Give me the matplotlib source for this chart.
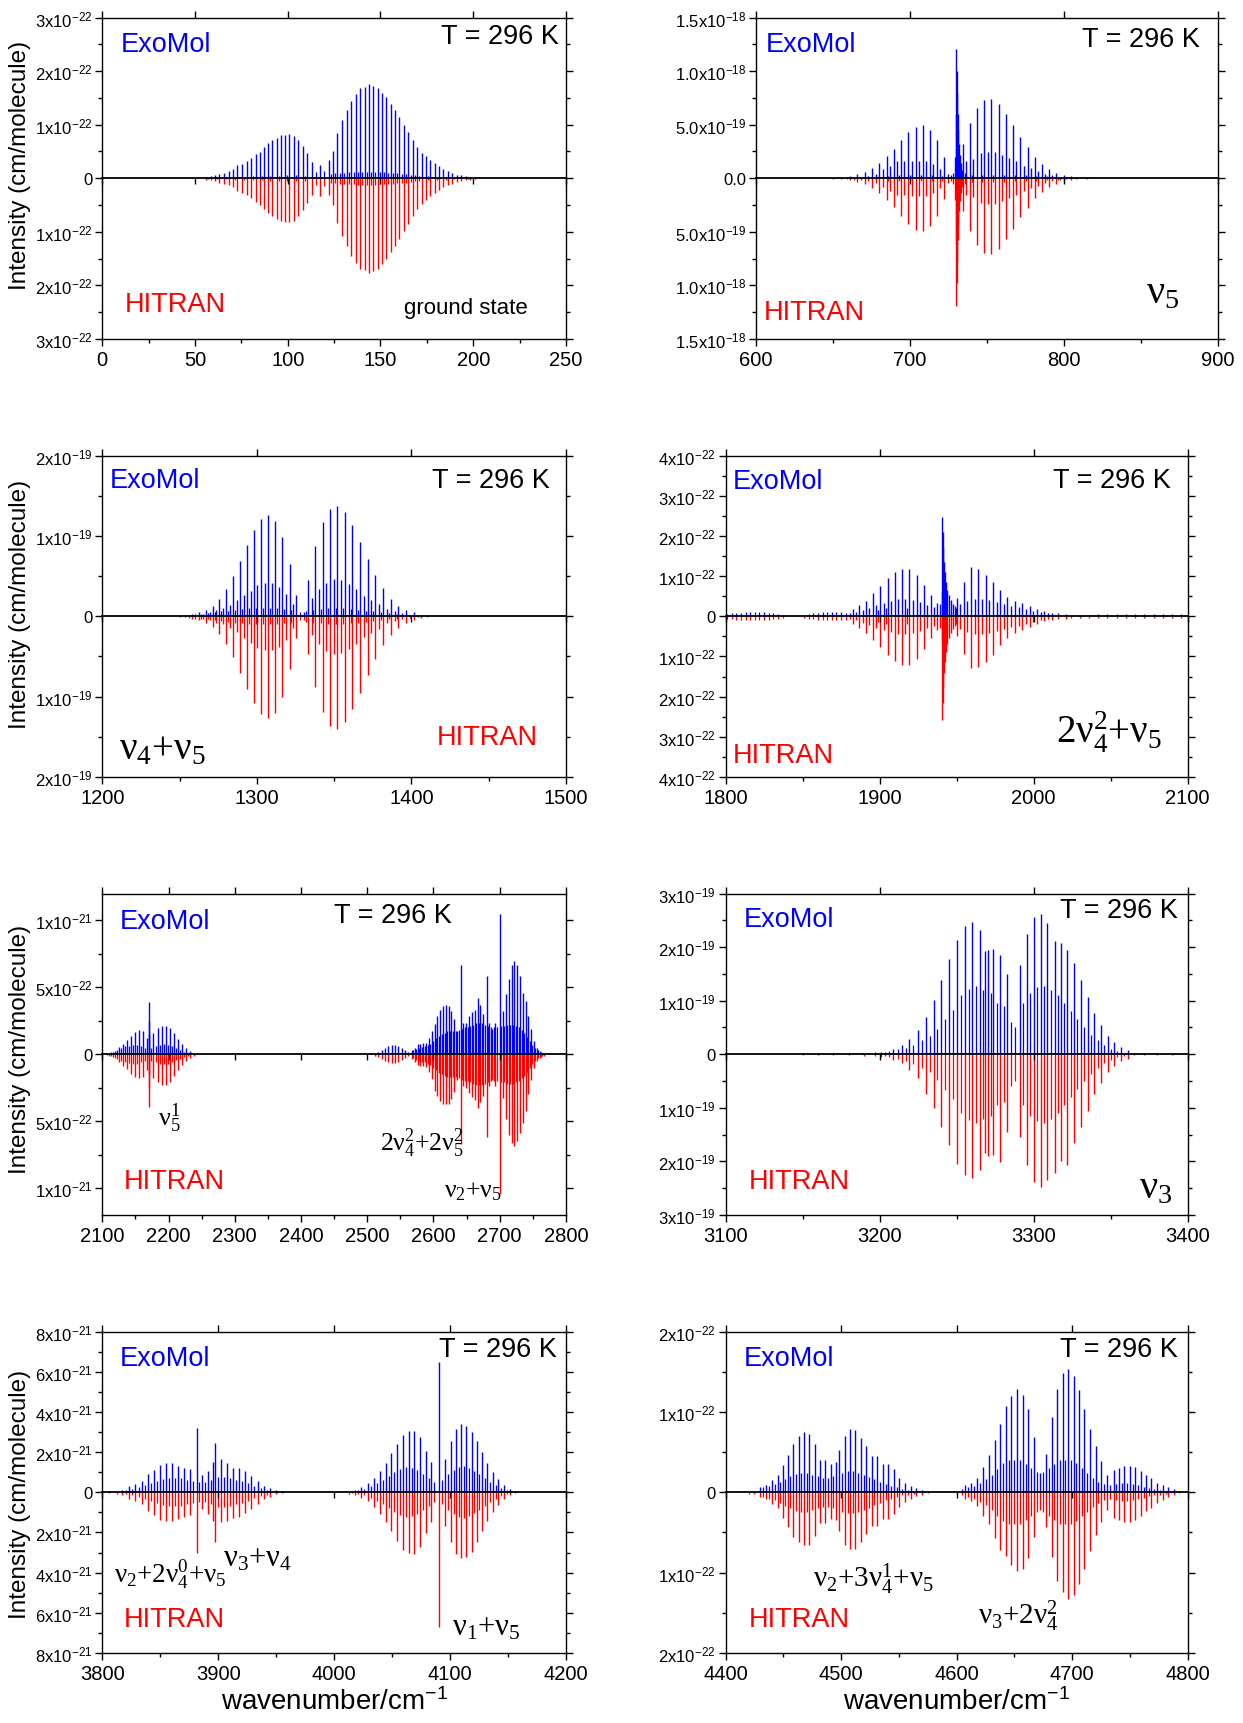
import numpy as np
import matplotlib
matplotlib.use("Agg")
import matplotlib.pyplot as plt
from matplotlib.ticker import MultipleLocator, FuncFormatter

plt.rcParams['font.family'] = ['Liberation Sans', 'DejaVu Sans']
plt.rcParams['mathtext.fontset'] = 'custom'
plt.rcParams['mathtext.rm'] = 'Liberation Sans'
plt.rcParams['mathtext.it'] = 'Liberation Sans:italic'
plt.rcParams['mathtext.bf'] = 'Liberation Sans:bold'

BLUE = '#0000ff'
RED = '#ff0000'

# ---------------------------------------------------------------- ground state (x1e-22)
gs_pos = [56.0, 58.4, 60.8, 63.1, 65.7, 68.1, 70.6, 72.9, 75.3, 77.8,
          80.2, 82.8, 85.1, 87.3, 89.4, 91.7, 94.1, 96.2, 98.4, 100.9,
          103.3, 105.6, 108.2, 110.6, 113.1, 117.4, 122.1, 124.5, 126.8, 129.2,
          131.7, 134.3, 136.7, 139.0, 141.4, 143.7, 146.1, 148.4, 150.6, 153.1,
          155.5, 157.8, 160.2, 162.5, 164.9, 167.5, 169.8, 172.2, 174.5, 176.9,
          179.2, 181.6, 183.9, 186.3, 188.6, 191.2, 193.5, 195.9, 198.2, 200.8]
gs_exo = [0.03, 0.04, 0.06, 0.08, 0.10, 0.13, 0.17, 0.24, 0.27, 0.32,
          0.37, 0.45, 0.49, 0.58, 0.65, 0.71, 0.76, 0.80, 0.81, 0.83,
          0.78, 0.71, 0.61, 0.48, 0.30, 0.25, 0.34, 0.51, 0.85, 1.09,
          1.27, 1.45, 1.57, 1.69, 1.71, 1.76, 1.72, 1.69, 1.60, 1.51,
          1.38, 1.27, 1.15, 0.99, 0.86, 0.71, 0.58, 0.48, 0.42, 0.34,
          0.28, 0.22, 0.17, 0.13, 0.10, 0.07, 0.06, 0.04, 0.03, 0.02]
gs_hit = [0.03, 0.04, 0.06, 0.08, 0.10, 0.13, 0.17, 0.23, 0.27, 0.32,
          0.37, 0.44, 0.49, 0.57, 0.64, 0.71, 0.76, 0.80, 0.81, 0.82,
          0.79, 0.71, 0.60, 0.47, 0.32, 0.34, 0.32, 0.50, 0.84, 1.08,
          1.27, 1.46, 1.58, 1.70, 1.72, 1.76, 1.73, 1.69, 1.60, 1.50,
          1.38, 1.26, 1.14, 0.99, 0.86, 0.71, 0.58, 0.48, 0.41, 0.34,
          0.28, 0.22, 0.17, 0.13, 0.10, 0.07, 0.06, 0.04, 0.03, 0.02]
gs_mid_pos = [57.2, 62.0, 66.9, 71.7, 76.6, 81.5, 86.2, 90.5, 95.2, 99.6,
              104.5, 109.4, 115.2, 119.8, 123.3, 125.6, 128.0, 130.5, 133.0, 135.5,
              137.9, 140.2, 142.6, 144.9, 147.3, 149.5, 151.9, 154.3, 156.7, 159.0,
              161.4, 163.7, 166.2, 168.7, 171.0, 175.7, 180.4, 185.1, 189.9, 197.0]
gs_mid_int = [0.01, 0.02, 0.02, 0.03, 0.03, 0.04, 0.04, 0.05, 0.05, 0.06,
              0.06, 0.05, 0.12, 0.14, 0.08, 0.09, 0.10, 0.10, 0.11, 0.11,
              0.12, 0.12, 0.12, 0.12, 0.12, 0.11, 0.11, 0.10, 0.10, 0.09,
              0.08, 0.08, 0.07, 0.06, 0.05, 0.04, 0.03, 0.03, 0.02, 0.01]

# ---------------------------------------------------------------- nu5 (x1e-19)
v5_pos = [661.1, 665.7, 668.2, 670.6, 672.9, 675.3, 677.6, 679.9, 682.5, 684.8,
          687.1, 689.4, 691.8, 694.3, 696.4, 699.0, 701.3, 703.6, 705.9, 708.2,
          710.6, 712.9, 715.2, 717.5, 719.8, 722.4, 724.6, 729.4, 729.8, 730.1,
          730.4, 730.7, 731.0, 731.4, 731.8, 732.3, 732.9, 734.3, 736.6, 738.7,
          741.0, 743.6, 745.9, 748.2, 750.5, 752.8, 755.2, 757.5, 759.8, 762.1,
          764.4, 766.8, 769.1, 771.6, 774.0, 776.3, 778.6, 780.9, 783.2, 785.6,
          787.9, 790.5, 792.5, 795.1, 797.2, 799.7, 804.4]
v5_exo = [0.19, 0.37, 0.15, 0.59, 0.25, 0.96, 0.40, 1.43, 0.84, 2.08,
          1.18, 2.76, 1.58, 3.57, 1.60, 4.32, 1.65, 4.81, 1.65, 4.94,
          1.65, 4.50, 1.37, 3.54, 0.90, 1.99, 0.40, 2.0, 6.0, 12.1,
          10.0, 8.0, 6.0, 4.5, 3.2, 2.2, 1.4, 3.2, 1.58, 5.12,
          1.80, 6.52, 2.36, 7.27, 2.48, 7.39, 2.45, 6.93, 2.20, 6.02,
          1.86, 5.00, 1.65, 3.85, 1.18, 2.89, 0.96, 1.96, 0.71, 1.30,
          0.43, 0.84, 0.31, 0.53, 0.16, 0.31, 0.19]
v5_hit = [0.18, 0.35, 0.15, 0.57, 0.25, 0.93, 0.40, 1.38, 0.82, 2.02,
          1.15, 2.70, 1.55, 3.50, 1.58, 4.25, 1.62, 4.85, 1.62, 4.95,
          1.62, 4.45, 1.35, 3.50, 0.88, 1.95, 0.40, 2.0, 6.0, 11.9,
          9.8, 7.8, 5.8, 4.4, 3.1, 2.1, 1.4, 3.1, 1.55, 4.90,
          1.75, 6.20, 2.30, 7.00, 2.40, 7.10, 2.40, 6.60, 2.15, 5.70,
          1.80, 4.70, 1.60, 3.65, 1.15, 2.75, 0.92, 1.86, 0.68, 1.25,
          0.41, 0.80, 0.30, 0.50, 0.15, 0.30, 0.18]
v5_mid_pos = [650, 655, 659, 663.5, 686, 693, 700, 707, 714, 721,
              726.5, 727.8, 733.5, 735.5, 740, 747, 754, 761, 768, 775,
              782, 789, 796, 801, 808, 815]
v5_mid_int = [0.05, 0.07, 0.1, 0.12, 0.25, 0.3, 0.3, 0.3, 0.3, 0.25,
              0.3, 0.5, 0.8, 0.5, 0.35, 0.35, 0.35, 0.35, 0.3, 0.3,
              0.25, 0.2, 0.15, 0.1, 0.07, 0.05]

# ---------------------------------------------------------------- nu4+nu5 (x1e-20)
c45_pos = [1253.4, 1258.1, 1262.4, 1265.0, 1267.0, 1269.4, 1271.7, 1273.8, 1275.5, 1277.8,
           1280.1, 1282.5, 1284.8, 1287.1, 1288.9, 1291.7, 1293.5, 1296.1, 1298.1, 1300.4,
           1302.7, 1305.1, 1307.4, 1309.7, 1312.0, 1314.6, 1316.6, 1318.9, 1321.2, 1323.5,
           1325.6, 1330.7, 1333.1, 1335.4, 1337.7, 1340.0, 1342.6, 1344.9, 1347.4, 1349.8,
           1352.1, 1354.4, 1356.9, 1359.4, 1361.8, 1364.2, 1366.7, 1369.2, 1371.8, 1374.0,
           1376.5, 1379.0, 1381.6, 1384.2, 1386.7, 1389.2, 1391.6, 1394.0, 1396.5, 1401.4,
           1406.3]
c45_exo = [0.1, 0.3, 0.5, 0.3, 0.8, 0.5, 1.3, 0.8, 2.2, 1.0,
           3.4, 1.4, 5.0, 2.0, 6.9, 2.6, 8.9, 3.2, 10.75, 3.9,
           12.1, 4.1, 12.6, 4.1, 11.8, 3.7, 9.8, 2.8, 6.5, 1.5,
           2.6, 0.5, 4.5, 2.25, 8.7, 3.4, 11.7, 4.2, 13.4, 4.6,
           13.7, 4.5, 13.0, 4.0, 11.3, 3.4, 9.2, 2.5, 7.1, 2.0,
           5.1, 1.5, 3.5, 0.9, 2.2, 0.6, 1.3, 0.4, 0.8, 0.5,
           0.2]
c45_hit = [0.1, 0.3, 0.5, 0.3, 0.8, 0.5, 1.3, 0.8, 2.2, 1.0,
           3.4, 1.4, 5.1, 2.0, 7.0, 2.7, 9.1, 3.3, 10.8, 4.0,
           12.1, 4.2, 12.6, 4.2, 12.0, 3.8, 10.0, 2.9, 6.6, 1.5,
           2.7, 0.5, 4.7, 2.3, 8.8, 3.5, 11.9, 4.3, 13.6, 4.7,
           14.0, 4.6, 13.2, 4.1, 11.5, 3.5, 9.5, 2.6, 7.25, 2.1,
           5.3, 1.6, 3.6, 0.9, 2.3, 0.6, 1.4, 0.4, 0.8, 0.5,
           0.2]
c45_mid_pos = [1250, 1256, 1260, 1264, 1268.2, 1272.8, 1276.6, 1281.3, 1286.0, 1290.3,
               1294.8, 1299.3, 1303.9, 1308.5, 1313.3, 1317.8, 1322.3, 1328, 1331.9, 1336.6,
               1341.3, 1346.2, 1350.9, 1355.6, 1360.6, 1365.5, 1370.5, 1375.3, 1380.3, 1385.5,
               1390.4, 1398.9, 1404, 1410]
c45_mid_int = [0.1, 0.2, 0.3, 0.3, 0.4, 0.5, 0.6, 0.7, 0.8, 0.9,
               1.0, 1.0, 1.0, 1.0, 1.0, 0.9, 0.8, 0.5, 0.7, 0.8,
               0.9, 1.0, 1.0, 1.0, 0.9, 0.8, 0.7, 0.6, 0.5, 0.4,
               0.3, 0.2, 0.15, 0.1]

# ---------------------------------------------------------------- 2nu4^2+nu5 (x1e-23)
c4_pos = [1882.5, 1886.9, 1889.0, 1891.2, 1893.4, 1895.6, 1897.9, 1900.3, 1902.7, 1905.2,
          1907.5, 1909.8, 1912.1, 1914.4, 1916.8, 1919.1, 1921.5, 1924.0, 1926.3, 1928.6,
          1930.9, 1933.2, 1935.4, 1937.6, 1940.3, 1940.7, 1941.1, 1941.5, 1942.0, 1942.6,
          1943.3, 1944.1, 1945.0, 1946.2, 1947.6, 1950.0, 1952.3, 1954.6, 1957.0, 1959.3,
          1961.7, 1964.2, 1966.5, 1968.8, 1971.2, 1973.5, 1976.0, 1978.4, 1980.7, 1983.0,
          1985.5, 1987.9, 1990.3, 1992.8, 1995.0, 1997.4, 1999.9, 2002.3, 2004.7, 2007.0,
          2009.5, 2011.9, 2015.7, 2020.9]
c4_exo = [1.8, 2.7, 1.5, 3.9, 2.0, 5.7, 2.7, 7.5, 3.3, 9.4,
          3.8, 11.0, 4.2, 11.8, 4.3, 11.8, 4.0, 10.3, 3.5, 7.9,
          2.8, 5.25, 2.2, 3.3, 6.0, 24.6, 21.0, 17.0, 13.5, 11.0,
          8.5, 6.5, 5.2, 4.0, 3.0, 4.6, 3.0, 8.5, 3.8, 12.2,
          4.2, 11.8, 4.3, 10.3, 4.0, 8.6, 3.5, 6.6, 3.0, 4.9,
          2.5, 3.9, 2.2, 3.25, 1.8, 2.5, 1.4, 1.9, 1.0, 1.2,
          0.7, 0.9, 0.8, 0.6]
c4_hit = [1.9, 2.8, 1.6, 4.1, 2.1, 6.0, 2.8, 7.7, 3.4, 9.7,
          3.9, 11.1, 4.3, 12.1, 4.4, 12.1, 4.1, 10.6, 3.6, 8.1,
          2.9, 5.4, 2.3, 3.5, 6.5, 25.7, 21.5, 17.5, 14.0, 11.5,
          9.0, 7.0, 5.5, 4.2, 3.2, 5.0, 3.2, 9.5, 4.0, 12.9,
          4.4, 12.7, 4.4, 11.4, 4.2, 9.6, 3.7, 7.2, 3.1, 5.3,
          2.6, 4.1, 2.3, 3.4, 1.9, 2.6, 1.5, 2.0, 1.0, 1.3,
          0.7, 0.9, 0.8, 0.6]
c4_mid_pos = [1801, 1804, 1807, 1810, 1813, 1816, 1819, 1822, 1825, 1828,
              1831, 1834, 1837, 1851, 1854, 1857, 1860, 1863, 1866, 1869,
              1872, 1875, 1878, 1881, 1884.7, 1899, 1904, 1918, 1939, 1948.8,
              1949.4, 2024, 2030, 2036, 2042, 2048, 2054, 2060, 2066, 2072,
              2078, 2084, 2090, 2096]
c4_mid_int = [0.6, 0.8, 0.9, 0.9, 1.0, 1.0, 1.0, 1.0, 1.0, 0.9,
              0.8, 0.6, 0.4, 0.4, 0.6, 0.8, 0.9, 1.0, 1.0, 1.0,
              1.0, 1.0, 0.9, 0.8, 1.0, 1.5, 2.0, 2.0, 3.0, 2.5,
              2.0, 0.4, 0.4, 0.4, 0.45, 0.5, 0.5, 0.5, 0.5, 0.5,
              0.5, 0.5, 0.5, 0.45]

# ---------------------------------------------------------------- 2100-2800 region (x1e-22)
c5_pos = [2106.6, 2112.6, 2118.6, 2124.6, 2130.6, 2136.6, 2143.1, 2149.1, 2155.1, 2161.1,
          2167.7, 2170.1, 2170.6, 2171.2, 2177.3, 2183.9, 2189.9, 2195.9, 2202.5, 2208.4,
          2214.4, 2220.4, 2226.4, 2232.4, 2238.4,
          2512, 2517, 2522, 2527, 2532, 2537, 2542, 2547, 2552, 2557, 2562,
          2567.1, 2571.6, 2576.1, 2580.0, 2584.6, 2588.7, 2593.2, 2597.3, 2601.8, 2605.8,
          2610.3, 2614.8, 2618.9, 2623.0, 2627.0, 2631.4, 2635.5, 2641.0, 2645.0, 2649.5,
          2653.5, 2657.5, 2662.0, 2666.7, 2671.0, 2675.5, 2680.3, 2684.5, 2689.0, 2693.5,
          2700.0, 2704.5, 2709.0, 2713.5, 2718.0, 2722.0, 2726.5, 2731.0, 2735.0, 2739.0,
          2743.0, 2747.3, 2751.7, 2756.0, 2760.3, 2764.5]
c5_exo = [0.07, 0.15, 0.27, 0.52, 0.80, 1.07, 1.39, 1.67, 1.79, 1.74,
          1.2, 3.93, 2.5, 1.5, 1.62, 1.94, 2.11, 2.11, 1.94, 1.57,
          1.17, 0.80, 0.47, 0.25, 0.12,
          0.1, 0.2, 0.35, 0.5, 0.6, 0.68, 0.7, 0.65, 0.5, 0.3, 0.15,
          0.32, 0.5, 0.75, 0.8, 0.82, 0.87, 1.24, 1.74, 2.24, 2.86,
          3.28, 3.6, 3.66, 3.6, 3.23, 2.61, 1.74, 6.64, 2.3, 2.36,
          2.86, 3.16, 3.3, 4.23, 3.66, 3.0, 5.85, 2.36, 1.87, 2.36,
          10.45, 3.2, 4.48, 5.6, 6.7, 6.97, 6.7, 5.85, 4.6, 4.0,
          2.86, 1.87, 1.0, 0.5, 0.25, 0.12]
c5_hit = [0.07, 0.15, 0.28, 0.55, 0.85, 1.12, 1.45, 1.72, 1.78, 1.70,
          1.2, 3.95, 2.5, 1.5, 1.75, 2.10, 2.29, 2.29, 2.05, 1.65,
          1.2, 0.82, 0.48, 0.25, 0.12,
          0.1, 0.2, 0.35, 0.5, 0.6, 0.65, 0.65, 0.6, 0.45, 0.3, 0.15,
          0.35, 0.55, 0.8, 0.85, 0.9, 0.95, 1.35, 1.85, 2.74, 3.1,
          3.5, 3.73, 3.73, 3.7, 3.36, 2.8, 1.9, 6.7, 2.4, 2.5,
          2.9, 3.2, 3.4, 4.0, 3.6, 3.1, 6.2, 2.4, 1.9, 2.4,
          10.45, 3.3, 4.85, 6.0, 6.6, 6.84, 6.5, 5.85, 5.1, 4.2,
          3.0, 1.95, 1.05, 0.5, 0.25, 0.12]
c5_mid_pos = [2109.6, 2115.6, 2121.6, 2127.6, 2133.6, 2139.8, 2146.1, 2152.1, 2158.1, 2164.4,
              2174.0, 2180.6, 2186.9, 2192.9, 2199.2, 2205.5, 2211.4, 2217.4, 2223.4, 2229.4,
              2569, 2574, 2578, 2582, 2586.6, 2591, 2595.2, 2599.5, 2603.8, 2608,
              2612.5, 2616.8, 2621, 2625, 2629.2, 2633.5, 2638, 2643, 2647.3, 2651.5,
              2655.5, 2659.8, 2664.3, 2668.8, 2673.2, 2678, 2682.4, 2686.8, 2691.2, 2696.5,
              2702.2, 2706.8, 2711.2, 2715.8, 2720, 2724.2, 2728.8, 2733, 2737, 2741,
              2745.1, 2749.5, 2753.8, 2758.2, 2762.4, 2767]
c5_mid_int = [0.1, 0.2, 0.35, 0.5, 0.6, 0.65, 0.7, 0.7, 0.6, 0.5,
              0.5, 0.6, 0.7, 0.75, 0.7, 0.6, 0.45, 0.35, 0.2, 0.12,
              0.3, 0.4, 0.5, 0.55, 0.6, 0.7, 0.8, 1.0, 1.2, 1.4,
              1.5, 1.6, 1.7, 1.7, 1.7, 1.7, 1.8, 1.9, 2.0, 2.0,
              2.1, 2.2, 2.3, 2.3, 2.3, 2.2, 2.1, 2.0, 2.0, 2.0,
              2.1, 2.1, 2.2, 2.2, 2.2, 2.1, 2.0, 1.8, 1.6, 1.3,
              1.0, 0.7, 0.5, 0.3, 0.2, 0.1]

# ---------------------------------------------------------------- nu3 (x1e-20)
c6_pos = [3203.4, 3209.0, 3214.4, 3219.3, 3224.7, 3230.2, 3235.1, 3240.2, 3245.4, 3250.5,
          3255.4, 3260.3, 3265.5, 3268.5, 3270.6, 3273.8, 3278.4, 3283.0, 3291.0, 3295.6,
          3300.3, 3304.6, 3309.0, 3313.7, 3317.5, 3321.9, 3326.3, 3330.7, 3335.1, 3339.4,
          3343.8, 3348.2, 3352.3, 3356.7, 3361.1]
c6_exo = [0.4, 1.0, 1.7, 2.9, 4.6, 7.0, 10.1, 13.9, 17.7, 21.3,
          23.9, 24.7, 23.2, 19.2, 19.4, 19.7, 18.5, 15.0, 16.6, 22.4,
          25.7, 26.1, 24.5, 21.2, 20.8, 19.5, 17.0, 13.9, 10.7, 7.7,
          5.5, 3.5, 2.2, 1.4, 0.8]
c6_hit = [0.4, 1.0, 1.7, 2.9, 4.4, 7.5, 10.1, 13.5, 17.0, 20.4,
          22.5, 23.1, 21.6, 18.5, 19.0, 18.8, 20.1, 14.5, 15.5, 20.7,
          23.9, 24.7, 23.5, 22.2, 20.0, 20.7, 16.5, 13.5, 10.5, 7.5,
          5.3, 3.4, 2.1, 1.3, 0.8]
c6_mid_pos = [3150, 3160, 3170, 3180, 3190, 3197, 3201, 3206.2, 3211.7, 3216.9,
              3222, 3227.5, 3232.6, 3237.6, 3242.8, 3248, 3253, 3257.9, 3262.9, 3267.3,
              3272.3, 3276, 3280.7, 3285.5, 3288, 3293.4, 3298, 3302.5, 3307, 3311.5,
              3315.8, 3320, 3324, 3328.5, 3333, 3337.2, 3341.6, 3346, 3350.3, 3354.5,
              3359, 3365, 3372, 3380, 3390]
c6_mid_int = [0.1, 0.1, 0.15, 0.2, 0.3, 0.4, 0.5, 0.6, 0.9, 1.2,
              1.8, 2.6, 3.4, 4.8, 6.6, 8.3, 11.0, 12.2, 12.8, 12.0,
              11.5, 9.5, 9.0, 6.0, 5.0, 9.5, 11.5, 12.5, 12.8, 12.0,
              11.0, 9.5, 8.0, 6.5, 5.0, 3.6, 2.6, 1.7, 1.0, 0.6,
              0.3, 0.2, 0.15, 0.1, 0.1]

# ---------------------------------------------------------------- 3800-4200 region (x1e-21)
c7_pos = [3812.7, 3817.3, 3823.2, 3828.4, 3834.2, 3839.4, 3844.2, 3849.5, 3854.7, 3859.9,
          3865.1, 3870.3, 3875.5, 3881.3, 3886.2, 3891.1, 3895.7, 3897.5, 3902.7, 3907.9,
          3913.1, 3918.3, 3923.5, 3928.7, 3933.9, 3939.1, 3944.3, 3949.5,
          4012.7, 4018.2, 4023.6, 4029.1, 4034.2, 4039.4, 4044.5, 4049.3, 4054.5, 4059.2,
          4064.4, 4069.2, 4074.0, 4079.1, 4083.8, 4090.8, 4095.9, 4100.7, 4105.5, 4109.6,
          4114.0, 4118.8, 4122.9, 4127.4, 4132.2, 4137.0, 4141.8, 4146.6, 4151.4]
c7_exo = [0.07, 0.13, 0.32, 0.42, 0.58, 0.92, 1.10, 1.35, 1.48, 1.45,
          1.32, 1.22, 1.15, 3.20, 0.87, 1.08, 1.53, 2.43, 1.68, 1.48,
          1.22, 1.22, 1.05, 0.82, 0.57, 0.32, 0.22, 0.10,
          0.07, 0.13, 0.27, 0.45, 0.73, 1.05, 1.45, 1.95, 2.40, 2.85,
          3.05, 3.05, 2.73, 2.03, 1.50, 6.48, 1.67, 2.55, 3.15, 3.38,
          3.32, 3.02, 2.53, 2.00, 1.48, 1.03, 0.65, 0.35, 0.15]
c7_hit = [0.07, 0.13, 0.32, 0.45, 0.60, 0.95, 1.15, 1.40, 1.43, 1.43,
          1.35, 1.25, 1.15, 3.00, 0.85, 1.10, 1.45, 2.50, 1.50, 1.45,
          1.30, 1.25, 1.05, 0.85, 0.60, 0.35, 0.22, 0.10,
          0.07, 0.13, 0.27, 0.45, 0.75, 1.10, 1.50, 1.95, 2.45, 2.85,
          3.00, 3.07, 2.70, 2.05, 1.50, 6.70, 1.70, 2.50, 3.05, 3.27,
          3.20, 2.95, 2.50, 1.95, 1.45, 1.00, 0.65, 0.35, 0.15]
c7_mid_pos = [3806, 3820.3, 3826, 3831.5, 3836.8, 3842, 3847, 3852, 3857.3, 3862.5,
              3867.7, 3872.9, 3878.4, 3883.7, 3888.7, 3893.4, 3900.1, 3905.3, 3910.5, 3915.7,
              3920.9, 3926.1, 3931.3, 3936.5, 3941.7, 3955,
              4015.5, 4021, 4026, 4031.5, 4036.8, 4042, 4047, 4051.9, 4056.8, 4061.8,
              4066.8, 4071.6, 4076.5, 4081.5, 4086, 4093.4, 4098.3, 4103.1, 4107.6, 4112,
              4116.4, 4120.8, 4125.2, 4129.8, 4134.6, 4139.4, 4144.2, 4149, 4156]
c7_mid_int = [0.05, 0.1, 0.15, 0.25, 0.35, 0.45, 0.55, 0.65, 0.7, 0.7,
              0.7, 0.6, 0.55, 0.5, 0.5, 0.6, 0.75, 0.75, 0.7, 0.6,
              0.55, 0.45, 0.3, 0.2, 0.12, 0.05,
              0.05, 0.1, 0.15, 0.3, 0.45, 0.6, 0.8, 1.0, 1.15, 1.25,
              1.2, 1.1, 0.9, 0.7, 0.5, 0.6, 0.9, 1.1, 1.25, 1.3,
              1.2, 1.05, 0.9, 0.7, 0.5, 0.35, 0.2, 0.1, 0.05]

# ---------------------------------------------------------------- 4400-4800 region (x1e-23)
c8_pos = [4425.0, 4430.1, 4434.8, 4440.2, 4445.0, 4449.5, 4454.0, 4458.4, 4463.2, 4467.7,
          4472.5, 4477.3, 4482.1, 4486.3, 4491.1, 4495.5, 4498.6, 4503.4, 4507.9, 4512.4,
          4517.2, 4522.0, 4526.5, 4531.3, 4536.1, 4540.9, 4545.7, 4550.5, 4555.3, 4560.5,
          4565.3, 4570.1,
          4607.6, 4612.7, 4617.9, 4623.0, 4628.2, 4633.0, 4637.8, 4642.6, 4647.4, 4652.6,
          4657.4, 4662.2, 4667.0, 4672.2, 4677.6, 4682.5, 4686.9, 4691.8, 4696.9, 4701.4,
          4706.2, 4710.7, 4715.5, 4720.3, 4725.1, 4729.9, 4736.1, 4740.5, 4745.4, 4750.2,
          4754.6, 4759.5, 4764.3, 4768.7, 4773.5, 4778.4, 4783.2, 4788.0]
c8_exo = [0.2, 0.6, 0.9, 1.5, 2.1, 3.4, 4.6, 6.0, 7.0, 7.5,
          7.3, 6.0, 4.0, 4.0, 3.5, 3.8, 5.2, 7.0, 7.9, 7.8,
          6.8, 5.7, 4.5, 4.5, 3.5, 3.5, 2.85, 1.8, 1.2, 0.8,
          0.5, 0.3,
          0.9, 1.2, 1.8, 3.1, 4.6, 6.5, 8.5, 10.7, 12.0, 12.8,
          12.1, 10.3, 6.9, 2.4, 4.8, 9.4, 12.9, 14.8, 15.3, 14.5,
          12.7, 10.4, 7.9, 5.7, 3.9, 2.1, 2.8, 3.0, 3.3, 3.3,
          3.1, 2.7, 2.1, 1.8, 1.2, 0.9, 0.6, 0.4]
c8_hit = [0.2, 0.55, 0.8, 1.4, 2.0, 3.2, 4.3, 5.6, 6.2, 6.6,
          6.6, 5.5, 3.8, 3.8, 3.3, 3.5, 4.8, 6.5, 7.0, 7.0,
          6.2, 5.2, 4.2, 4.2, 3.3, 3.3, 2.7, 1.8, 1.2, 0.8,
          0.5, 0.3,
          0.8, 1.1, 1.7, 2.9, 4.0, 5.7, 7.2, 7.9, 9.1, 9.75,
          9.5, 8.2, 5.6, 2.2, 4.3, 8.0, 11.0, 12.4, 13.3, 12.8,
          11.4, 9.5, 7.3, 5.3, 3.7, 2.2, 3.2, 3.5, 3.7, 3.7,
          3.4, 3.0, 2.3, 1.9, 1.3, 1.0, 0.6, 0.4]
c8_mid_pos = [4420, 4432.5, 4437.5, 4442.6, 4447.2, 4451.8, 4456.2, 4460.8, 4465.5, 4470.1,
              4474.9, 4479.7, 4484.2, 4488.7, 4493.3, 4501.0, 4505.6, 4510.1, 4514.8, 4519.6,
              4524.2, 4528.9, 4533.7, 4538.5, 4543.3, 4548.1, 4552.9, 4557.9, 4563, 4575,
              4600, 4605, 4610.2, 4615.3, 4620.5, 4625.6, 4630.6, 4635.4, 4640.2, 4645,
              4650, 4655, 4659.8, 4664.6, 4669.6, 4674.9, 4680, 4684.7, 4689.3, 4694.3,
              4699.1, 4703.8, 4708.5, 4713.1, 4717.9, 4722.7, 4727.5, 4733, 4738.3, 4743,
              4747.8, 4752.4, 4757, 4761.9, 4766.5, 4771.1, 4776, 4781, 4786, 4793]
c8_mid_int = [0.2, 0.6, 0.8, 1.0, 1.3, 1.7, 2.0, 2.3, 2.4, 2.4,
              2.2, 2.0, 1.8, 1.8, 2.0, 2.4, 2.6, 2.6, 2.4, 2.2,
              1.9, 1.6, 1.3, 1.0, 0.8, 0.6, 0.4, 0.3, 0.2, 0.1,
              0.2, 0.4, 0.6, 0.8, 1.2, 1.6, 2.2, 2.9, 3.6, 4.0,
              4.0, 4.0, 3.5, 3.0, 2.5, 2.5, 3.0, 3.5, 4.0, 4.0,
              4.0, 3.6, 3.0, 2.4, 1.8, 1.3, 1.0, 0.9, 1.0, 1.1,
              1.1, 1.0, 0.9, 0.7, 0.5, 0.4, 0.3, 0.2, 0.15, 0.1]

# ---------------------------------------------------------------- panel layout
COL1 = (0.0823, 0.3730)
COL2 = (0.5837, 0.3717)
COL2_TOP = (0.6082, 0.3717)
ROW_BOTTOM = [0.80278, 0.54872, 0.29466, 0.04060]
ROW_H = 0.18648
YLABEL_Y = [0.9043, 0.6494, 0.3912, 0.1331]


def band(s):
    # band labels: upright Times-like serif, no extra spacing around "+"
    return r'$\mathregular{' + s.replace('+', '{+}') + '}$'


panels = [
    dict(rect=(COL1, 0), pos=gs_pos, exo=gs_exo, hit=gs_hit, mpos=gs_mid_pos, mint=gs_mid_int,
         unit=1e-22, xlim=(0, 250), xmaj=50, xmin=25, ymax=3e-22, ymaj=1e-22, ymin=0.5e-22,
         dec=0, zero='0', exo_xy=(0.039, 0.918), t_xy=(0.984, 0.943), hit_xy=(0.049, 0.109),
         hit_ha='left',
         notes=[(0.918, 0.099, 'ground state', 'right', 16, False)]),
    dict(rect=(COL2_TOP, 0), pos=v5_pos, exo=v5_exo, hit=v5_hit, mpos=v5_mid_pos, mint=v5_mid_int,
         unit=1e-19, xlim=(600, 900), xmaj=100, xmin=50, ymax=1.5e-18, ymaj=5e-19, ymin=2.5e-19,
         dec=1, zero='0.0', exo_xy=(0.022, 0.918), t_xy=(0.961, 0.933), hit_xy=(0.017, 0.083),
         hit_ha='left',
         notes=[(0.844, 0.145, band('ν_5'), 'left', 29, True)]),
    dict(rect=(COL1, 1), pos=c45_pos, exo=c45_exo, hit=c45_hit, mpos=c45_mid_pos, mint=c45_mid_int,
         unit=1e-20, xlim=(1200, 1500), xmaj=100, xmin=50, ymax=2e-19, ymaj=1e-19, ymin=0.5e-19,
         dec=0, zero='0', exo_xy=(0.015, 0.925), t_xy=(0.965, 0.925), hit_xy=(0.939, 0.124),
         hit_ha='right',
         notes=[(0.036, 0.0865, band('ν_4+ν_5'), 'left', 28, True)]),
    dict(rect=(COL2, 1), pos=c4_pos, exo=c4_exo, hit=c4_hit, mpos=c4_mid_pos, mint=c4_mid_int,
         unit=1e-23, xlim=(1800, 2100), xmaj=100, xmin=50, ymax=4e-22, ymaj=1e-22, ymin=0.5e-22,
         dec=0, zero='0', exo_xy=(0.016, 0.92), t_xy=(0.964, 0.925), hit_xy=(0.016, 0.067),
         hit_ha='left',
         notes=[(0.715, 0.142, band('2ν_4^2+ν_5'), 'left', 28, True)]),
    dict(rect=(COL1, 2), pos=c5_pos, exo=c5_exo, hit=c5_hit, mpos=c5_mid_pos, mint=c5_mid_int,
         unit=1e-22, xlim=(2100, 2800), xmaj=100, xmin=50, ymax=1.2e-21, ymaj=5e-22, ymin=2.5e-22,
         dec=0, zero='0', exo_xy=(0.038, 0.916), t_xy=(0.755, 0.934), hit_xy=(0.047, 0.107),
         hit_ha='left',
         notes=[(0.120, 0.303, band('ν_5^1'), 'left', 19, True),
                (0.599, 0.226, band('2ν_4^2+2ν_5^2'), 'left', 18.5, True),
                (0.738, 0.077, band('ν_2+ν_5'), 'left', 18.5, True)]),
    dict(rect=(COL2, 2), pos=c6_pos, exo=c6_exo, hit=c6_hit, mpos=c6_mid_pos, mint=c6_mid_int,
         unit=1e-20, xlim=(3100, 3400), xmaj=100, xmin=50, ymax=3e-19, ymaj=1e-19, ymin=0.5e-19,
         dec=0, zero='0', exo_xy=(0.039, 0.92), t_xy=(0.98, 0.948), hit_xy=(0.051, 0.107),
         hit_ha='left',
         notes=[(0.895, 0.086, band('ν_3'), 'left', 29, True)]),
    dict(rect=(COL1, 3), pos=c7_pos, exo=c7_exo, hit=c7_hit, mpos=c7_mid_pos, mint=c7_mid_int,
         unit=1e-21, xlim=(3800, 4200), xmaj=100, xmin=50, ymax=8e-21, ymaj=2e-21, ymin=1e-21,
         dec=0, zero='0', exo_xy=(0.038, 0.918), t_xy=(0.981, 0.946), hit_xy=(0.047, 0.107),
         hit_ha='left',
         notes=[(0.026, 0.244, band('ν_2+2ν_4^0+ν_5'), 'left', 19.5, True),
                (0.26, 0.297, band('ν_3+ν_4'), 'left', 22, True),
                (0.755, 0.080, band('ν_1+ν_5'), 'left', 22, True)]),
    dict(rect=(COL2, 3), pos=c8_pos, exo=c8_exo, hit=c8_hit, mpos=c8_mid_pos, mint=c8_mid_int,
         unit=1e-23, xlim=(4400, 4800), xmaj=100, xmin=50, ymax=2e-22, ymaj=1e-22, ymin=0.5e-22,
         dec=0, zero='0', exo_xy=(0.039, 0.918), t_xy=(0.98, 0.946), hit_xy=(0.051, 0.107),
         hit_ha='left',
         notes=[(0.190, 0.234, band('ν_2+3ν_4^1+ν_5'), 'left', 21, True),
                (0.547, 0.117, band('ν_3+2ν_4^2'), 'left', 21, True)]),
]


def tick_text(v, dec, zero, step):
    if abs(v) < step * 1e-3:
        return zero
    e = int(np.floor(np.log10(abs(v)) + 1e-6))
    m = abs(v) / 10.0 ** e
    return f'{m:.{dec}f}x10' + '$^{' + str(e) + '}$'


fig = plt.figure(figsize=(12.43, 17.24), dpi=100)

for p in panels:
    (left, width), row = p['rect']
    ax = fig.add_axes([left, ROW_BOTTOM[row], width, ROW_H])
    u = p['unit']

    # weak lines first, strong lines on top
    mpos = np.array(p['mpos'])
    mint = np.array(p['mint']) * u
    ax.vlines(mpos, 0, mint, colors=BLUE, lw=0.9)
    ax.vlines(mpos, 0, -mint, colors=RED, lw=0.9)
    pos = np.array(p['pos'])
    ax.vlines(pos, 0, np.array(p['exo']) * u, colors=BLUE, lw=1.0)
    ax.vlines(pos, 0, -np.array(p['hit']) * u, colors=RED, lw=1.0)

    ax.set_xlim(*p['xlim'])
    ax.set_ylim(-p['ymax'], p['ymax'])
    ax.xaxis.set_major_locator(MultipleLocator(p['xmaj']))
    ax.xaxis.set_minor_locator(MultipleLocator(p['xmin']))
    ax.yaxis.set_major_locator(MultipleLocator(p['ymaj']))
    ax.yaxis.set_minor_locator(MultipleLocator(p['ymin']))
    ax.yaxis.set_major_formatter(FuncFormatter(
        lambda v, _, d=p['dec'], z=p['zero'], s=p['ymaj']: tick_text(v, d, z, s)))

    for s in ax.spines.values():
        s.set_linewidth(1.0)
    ax.tick_params(axis='both', which='major', direction='out', length=5, width=1.0,
                   top=True, right=True)
    ax.tick_params(axis='x', which='minor', direction='out', length=3, width=1.0,
                   top=False, bottom=True)
    ax.tick_params(axis='y', which='minor', direction='out', length=3, width=1.0,
                   left=True, right=True)
    ax.tick_params(axis='x', labelsize=14.5, pad=3)
    ax.tick_params(axis='y', labelsize=12, pad=2)

    # baseline at zero intensity with its own ticks
    z = ax.secondary_xaxis(0.5)
    z.set_alignment('bottom')
    z.xaxis.set_major_locator(MultipleLocator(p['xmaj']))
    z.tick_params(axis='x', direction='out', length=4, width=1.0,
                  labelbottom=False, labeltop=False)
    z.spines['bottom'].set_linewidth(1.3)
    z.set_zorder(5)

    ax.text(*p['exo_xy'], 'ExoMol', color=BLUE, fontsize=19.5, ha='left', va='center',
            transform=ax.transAxes)
    ax.text(*p['t_xy'], 'T = 296 K', color='black', fontsize=19.5, ha='right', va='center',
            transform=ax.transAxes)
    ax.text(*p['hit_xy'], 'HITRAN', color=RED, fontsize=19.5, ha=p['hit_ha'], va='center',
            transform=ax.transAxes)
    for x, y, txt, ha, size, serif in p['notes']:
        kw = dict(family='Liberation Serif') if serif else {}
        ax.text(x, y, txt, fontsize=size, ha=ha, va='center', color='black',
                transform=ax.transAxes, **kw)

for yc in YLABEL_Y:
    fig.text(0.016, yc, 'Intensity (cm/molecule)', rotation=90,
             ha='center', va='center', fontsize=17.5)

for left, width in (COL1, COL2):
    fig.text(left + width / 2, 0.0125, 'wavenumber/cm$^{-1}$', ha='center', va='center',
             fontsize=20)

fig.savefig('out.png', dpi=100)
